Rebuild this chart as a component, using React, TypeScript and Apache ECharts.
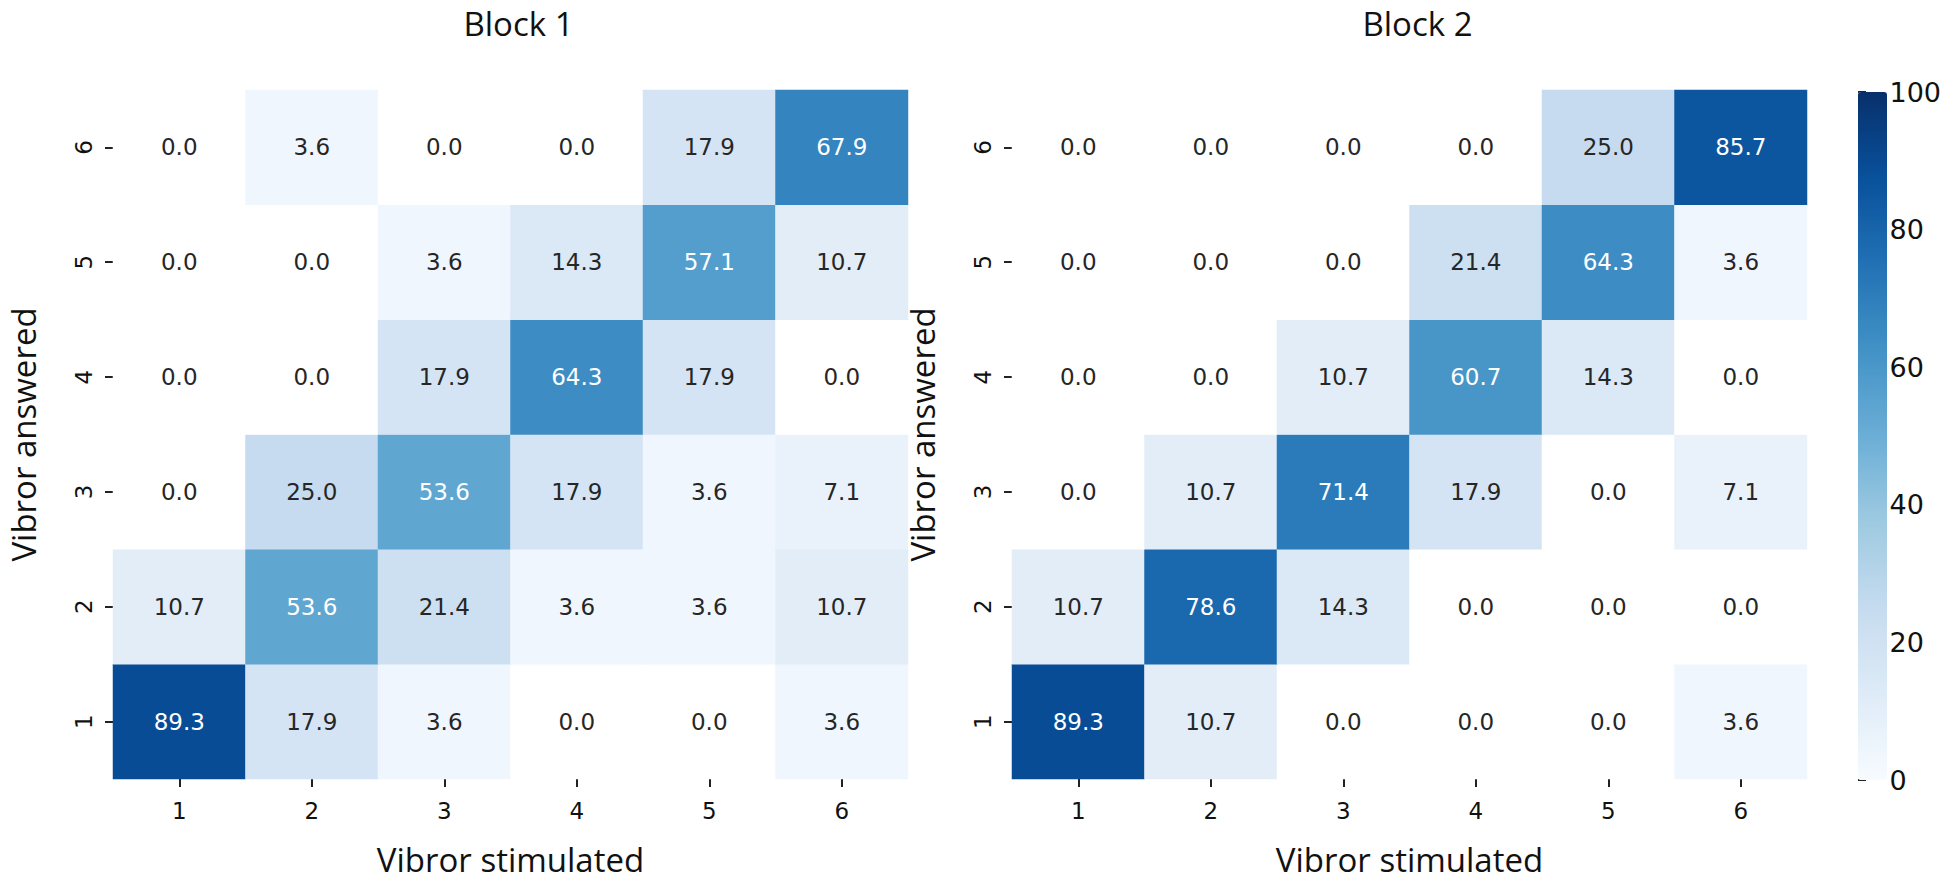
import React, { useEffect, useRef } from "react";
import * as echarts from "echarts";

const stimulated = ["1", "2", "3", "4", "5", "6"];
const answered = ["1", "2", "3", "4", "5", "6"];
const titles = ["Block 1", "Block 2"];
const xName = "Vibror stimulated";
const yName = "Vibror answered";

// rows: answered 1..6 (bottom to top), columns: stimulated 1..6
const block1 = [
  [89.3, 17.9, 3.6, 0.0, 0.0, 3.6],
  [10.7, 53.6, 21.4, 3.6, 3.6, 10.7],
  [0.0, 25.0, 53.6, 17.9, 3.6, 7.1],
  [0.0, 0.0, 17.9, 64.3, 17.9, 0.0],
  [0.0, 0.0, 3.6, 14.3, 57.1, 10.7],
  [0.0, 3.6, 0.0, 0.0, 17.9, 67.9],
];
const block2 = [
  [89.3, 10.7, 0.0, 0.0, 0.0, 3.6],
  [10.7, 78.6, 14.3, 0.0, 0.0, 0.0],
  [0.0, 10.7, 71.4, 17.9, 0.0, 7.1],
  [0.0, 0.0, 10.7, 60.7, 14.3, 0.0],
  [0.0, 0.0, 0.0, 21.4, 64.3, 3.6],
  [0.0, 0.0, 0.0, 0.0, 25.0, 85.7],
];
const colorMin = 0;
const colorMax = 100;
const colorTickStep = 20;
const blues = [
  "#f7fbff", "#deebf7", "#c6dbef", "#9ecae1", "#6baed6",
  "#4292c6", "#2171b5", "#08519c", "#08306b",
];

const NUM_FONT = "'DejaVu Sans', sans-serif";
const TXT_FONT = "'Open Sans', 'Noto Sans', sans-serif";

function toData(m: number[][]) {
  const out: any[] = [];
  m.forEach((row, yi) =>
    row.forEach((v, xi) => {
      out.push({
        value: [xi, yi, v],
        label: { color: v > 45 ? "#ffffff" : "#262626" },
      });
    })
  );
  return out;
}

export default function App() {
  const ref = useRef<HTMLDivElement>(null);
  useEffect(() => {
    document.body.style.margin = "0";
    const chart = echarts.init(ref.current!, null, { renderer: "svg" });
    const gTop = 90;
    const gH = 689;
    const gW = 795;
    const lefts = [113, 1012];

    const xAxes: any[] = lefts.map((_, i) => ({
      type: "category",
      gridIndex: i,
      data: stimulated,
      axisLine: { show: false },
      axisTick: { show: true, alignWithLabel: true, length: 8, lineStyle: { color: "#222", width: 2 } },
      axisLabel: { color: "#111", fontSize: 23, fontFamily: NUM_FONT, margin: 20 },
      splitLine: { show: false },
      splitArea: { show: false },
    }));
    const yAxes: any[] = lefts.map((_, i) => ({
      type: "category",
      gridIndex: i,
      data: answered,
      axisLine: { show: false },
      axisTick: { show: true, alignWithLabel: true, length: 8, lineStyle: { color: "#222", width: 2 } },
      axisLabel: { color: "#111", fontSize: 23, fontFamily: NUM_FONT, margin: 18, rotate: 90 },
      splitLine: { show: false },
      splitArea: { show: false },
    }));
    xAxes.push({ type: "value", gridIndex: 2, show: false, min: 0, max: 1 });
    yAxes.push({
      type: "value",
      gridIndex: 2,
      position: "right",
      min: colorMin,
      max: colorMax,
      interval: colorTickStep,
      axisLine: { show: false },
      axisTick: { show: true, length: 8, lineStyle: { color: "#222", width: 2 } },
      axisLabel: { color: "#111", fontSize: 27, fontFamily: NUM_FONT, margin: 16 },
      splitLine: { show: false },
    });

    const graphics: any[] = [];
    const nameStyle = (text: string) => ({
      text,
      font: `33px ${TXT_FONT}`,
      lineHeight: 33,
      fill: "#111",
      textAlign: "center",
      textVerticalAlign: "middle",
    });
    lefts.forEach((l, i) => {
      const cx = l + gW / 2;
      graphics.push({ type: "text", x: cx + 8, y: 23, style: nameStyle(titles[i]) });
      graphics.push({ type: "text", x: cx, y: 859, style: nameStyle(xName) });
      graphics.push({
        type: "text",
        x: l - 90,
        y: gTop + gH / 2,
        rotation: Math.PI / 2,
        style: nameStyle(yName),
      });
    });

    chart.setOption({
      animation: false,
      backgroundColor: "#ffffff",
      grid: [
        { left: lefts[0], top: gTop, width: gW, height: gH },
        { left: lefts[1], top: gTop, width: gW, height: gH },
        { left: 1858, top: 92, width: 29, height: 688 },
      ],
      xAxis: xAxes,
      yAxis: yAxes,
      visualMap: {
        type: "continuous",
        min: colorMin,
        max: colorMax,
        range: [0.05, colorMax],
        seriesIndex: [0, 1],
        calculable: false,
        orient: "vertical",
        left: 1858,
        top: 92,
        itemWidth: 29,
        itemHeight: 688,
        padding: 0,
        inRange: { color: blues },
        outOfRange: { color: ["#ffffff"] },
        hoverLink: false,
      },
      graphic: graphics,
      series: [block1, block2].map((m, i) => ({
        type: "heatmap",
        xAxisIndex: i,
        yAxisIndex: i,
        data: toData(m),
        label: {
          show: true,
          fontSize: 23,
          fontFamily: NUM_FONT,
          formatter: (p: any) => Number(p.value[2]).toFixed(1),
        },
        itemStyle: { borderWidth: 0 },
        emphasis: { disabled: true },
      })),
    });
    return () => chart.dispose();
  }, []);
  return <div ref={ref} style={{ width: 1944, height: 883 }} />;
}
